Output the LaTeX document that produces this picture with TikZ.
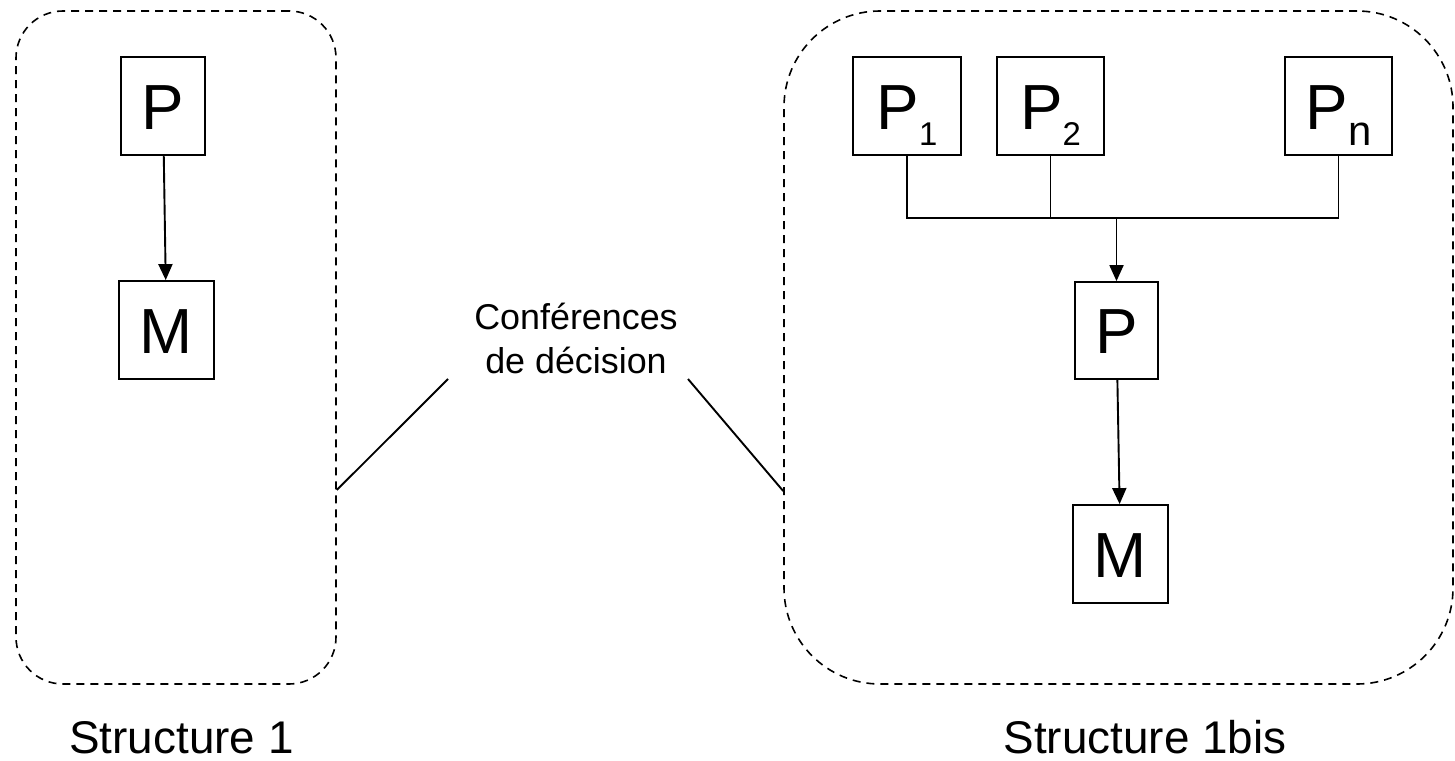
\documentclass[tikz,border=0pt]{standalone}
\usepackage{fontspec}
\setmainfont{Liberation Sans}
\usetikzlibrary{arrows.meta}

\tikzset{
  unit/.style={draw, line width=1.8bp, inner sep=0pt,
    font=\fontsize{64}{64}\selectfont, text height=46bp, text depth=0pt},
  group/.style={draw, line width=1.6bp, dash pattern=on 8bp off 6bp,
    inner sep=0pt},
  link/.style={line width=1.9bp},
  flow/.style={link, -{Triangle[length=16bp, width=14bp]}},
  caption/.style={font=\fontsize{46}{46}\selectfont, inner sep=0pt, anchor=base},
}
% subscripted labels: P with a lowered index
\newcommand{\psub}[2][33]{P\raisebox{-16bp}{\fontsize{#1}{#1}\selectfont #2}}

\begin{document}
\begin{tikzpicture}[x=1bp, y=-1bp]
  \useasboundingbox (0,0) rectangle (1455,760);

  % the two structures
  \node[group, rounded corners=47bp, minimum width=320bp, minimum height=673bp]
    (S1) at (176,347.5) {};
  \node[group, rounded corners=96bp, minimum width=669bp, minimum height=673bp]
    (S2) at (1118.5,347.5) {};

  % structure 1
  \node[unit, minimum width=84bp, minimum height=98bp] (P) at (163,106) {P};
  \node[unit, minimum width=95bp, minimum height=98bp] (M) at (166.5,330) {M};
  \draw[flow] (P) -- (M);

  % structure 1bis
  \node[unit, minimum width=108bp, minimum height=98bp] (P1) at (907,106) {\psub{1}};
  \node[unit, minimum width=107bp, minimum height=98bp] (P2) at (1050.5,106) {\psub{2}};
  \node[unit, minimum width=107bp, minimum height=98bp] (Pn) at (1338.5,106) {\psub[42]{n}};
  \node[unit, minimum width=83bp, minimum height=97bp] (Pc) at (1116.5,330.5) {P};
  \node[unit, minimum width=95bp, minimum height=98bp] (M2) at (1120.5,554) {M};

  \coordinate (bus) at (1116.5,218);
  \draw[link] (P1.south) -- (P1.south |- bus) -- (Pn.south |- bus) -- (Pn.south);
  \draw[link] (P2.south) -- (P2.south |- bus);
  \draw[flow] (bus) -- (Pc.north);
  \draw[flow] (Pc) -- (M2);

  % shared label and its pointers
  \node[inner sep=0pt, anchor=base, align=center,
        font=\fontsize{36}{44}\selectfont] (conf) at (576,373)
    {Conférences\\de décision};
  \coordinate (confL) at (448,379);
  \coordinate (confR) at (688,379);
  \coordinate (hitL) at (S1.east |- 0,490);
  \coordinate (hitR) at (S2.west |- 0,491);
  \draw[link] (confL) -- (hitL);
  \draw[link] (confR) -- (hitR);

  % captions
  \node[caption] (T1) at (181.5,753) {Structure 1};
  \node[caption] (T2) at (1145,753) {Structure 1bis};
\end{tikzpicture}
\end{document}
